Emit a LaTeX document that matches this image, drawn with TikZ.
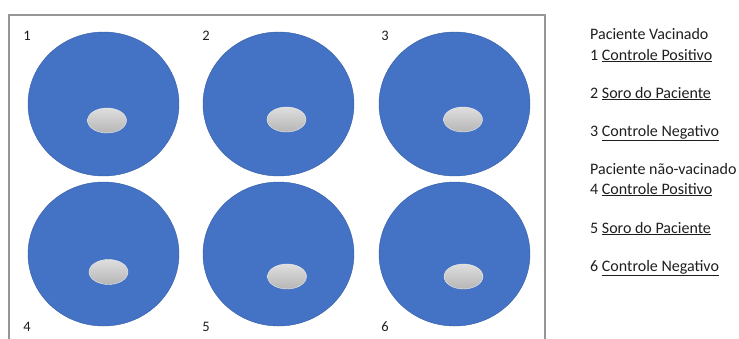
\documentclass[tikz,border=0pt]{standalone}
\usepackage{fontspec}
\setmainfont{Carlito}
\usetikzlibrary{shapes.geometric}

\definecolor{wellblue}{RGB}{68,114,196}
\definecolor{welledge}{RGB}{52,92,165}
\definecolor{spottop}{RGB}{222,222,222}
\definecolor{spotbot}{RGB}{182,182,182}
\definecolor{framegray}{RGB}{150,150,150}
\definecolor{inkgray}{RGB}{30,30,30}

\tikzset{
  well/.style={ellipse, fill=wellblue, draw=welledge, line width=0.4pt,
    minimum width=151pt, minimum height=144pt, inner sep=0pt},
  spot/.style={ellipse, top color=spottop, bottom color=spotbot,
    draw=spottop!60!white, line width=0.4pt,
    minimum width=39pt, minimum height=25pt, inner sep=0pt},
  wellno/.style={anchor=base, text=inkgray, font=\fontsize{14.5}{17}\selectfont},
  legend/.style={anchor=base west, inner sep=0pt, text=inkgray,
    font=\fontsize{16}{19}\selectfont}
}

\begin{document}
\begin{tikzpicture}[x=1pt, y=-1pt]
    \useasboundingbox (0,0) rectangle (739,338);
    \draw [framegray, line width=1.2pt] (9,340) -- (9,15) -- (545,15) -- (545,340);

    % wells
    \node [well] (w1) at (103.5,104) {};
    \node [well] (w2) at (278.5,104) {};
    \node [well] (w3) at (454.5,104) {};
    \node [well] (w4) at (103.5,254) {};
    \node [well] (w5) at (278.5,254) {};
    \node [well] (w6) at (454.5,254) {};

    \node [spot] (s1) at (107,120.5) {};
    \node [spot] (s2) at (286.5,119.5) {};
    \node [spot] (s3) at (463,119.5) {};
    \node [spot] (s4) at (108.5,272) {};
    \node [spot] (s5) at (287,276.5) {};
    \node [spot] (s6) at (463.5,276.5) {};

    \node [wellno] (n1) at (27,40) {1};
    \node [wellno] (n2) at (206,40) {2};
    \node [wellno] (n3) at (385,40) {3};
    \node [wellno] (n4) at (27,331) {4};
    \node [wellno] (n5) at (206,331) {5};
    \node [wellno] (n6) at (385,331) {6};

    % legend
    \node [legend] (vac) at (590,39.5) {Paciente Vacinado};
    \node [legend] (l1) at (590,60) {1 \underline{Controle Positivo}};
    \node [legend] (l2) at (590,98) {2 \underline{Soro do Paciente}};
    \node [legend] (l3) at (590,136) {3 \underline{Controle Negativo}};
    \node [legend] (nvac) at (590,174.5) {Paciente não-vacinado};
    \node [legend] (l4) at (590,194) {4 \underline{Controle Positivo}};
    \node [legend] (l5) at (590,233) {5 \underline{Soro do Paciente}};
    \node [legend] (l6) at (590,271) {6 \underline{Controle Negativo}};
\end{tikzpicture}
\end{document}
